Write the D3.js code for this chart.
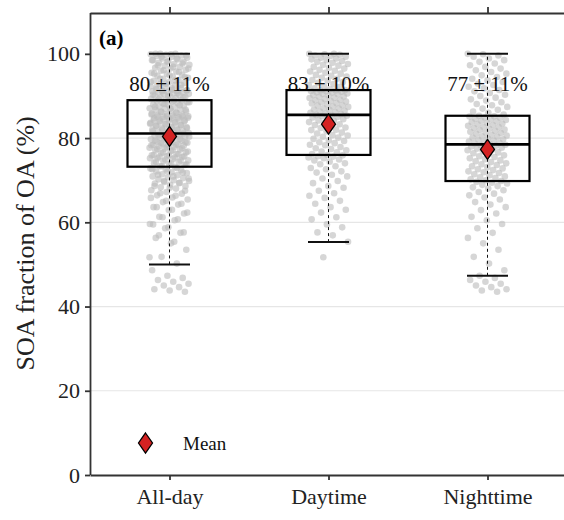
<!DOCTYPE html>
<html>
<head>
<meta charset="utf-8">
<script src="https://cdn.jsdelivr.net/npm/d3@7"></script>
<style>
  body { margin: 0; background: #fff; }
  svg { display: block; }
  svg text { font-family: "Liberation Serif", "Times New Roman", serif; }
</style>
</head>
<body>
<svg width="564" height="520"></svg>
<script>
// categories + box stats
var categories = ['All-day', 'Daytime', 'Nighttime'];
var whiskerLow = [50, 55.3, 47.3];
var q1 = [73.2, 76, 69.8];
var median = [81.1, 85.5, 78.5];
var q3 = [89, 91.4, 85.3];
var whiskerHigh = [100, 100, 100];
var means = [80.4, 83.3, 77.3];
var sds = [11, 10, 11];
var yTicks = [0, 20, 40, 60, 80, 100];

// individual SOA fractions (%), estimated from the jittered points
var daytime = [
  51.7, 55.4, 56.9, 57.6, 58.8, 59.5, 60.7, 61.2, 62.3, 63.0, 63.6, 64.4, 65.1, 65.8, 66.3, 66.9, 67.5, 68.2, 68.6, 69.3,
  69.8, 70.4, 70.9, 71.3, 71.8, 72.1, 72.6, 72.9, 73.3, 73.8, 74.0, 74.4, 74.7, 74.9, 75.2, 75.4, 75.6, 75.7, 75.9, 76.0,
  76.2, 76.6, 76.8, 77.1, 77.4, 77.6, 77.9, 78.3, 78.4, 78.8, 79.0, 79.3, 79.4, 79.8, 80.1, 80.3, 80.6, 80.7, 81.1, 81.3,
  81.6, 81.9, 82.0, 82.4, 82.5, 82.9, 83.1, 83.3, 83.6, 83.8, 84.1, 84.2, 84.5, 84.7, 84.9, 85.0, 85.2, 85.3, 85.4, 85.5,
  85.7, 85.8, 86.0, 86.2, 86.3, 86.5, 86.7, 86.8, 87.0, 87.1, 87.4, 87.5, 87.7, 87.8, 88.0, 88.2, 88.3, 88.5, 88.7, 88.8,
  89.0, 89.1, 89.3, 89.5, 89.6, 89.8, 89.9, 90.1, 90.2, 90.4, 90.5, 90.6, 90.8, 90.9, 91.0, 91.1, 91.2, 91.3, 91.3, 91.4,
  91.6, 91.8, 92.1, 92.3, 92.6, 92.8, 93.1, 93.3, 93.6, 93.8, 94.1, 94.3, 94.6, 94.8, 95.0, 95.3, 95.5, 95.8, 96.0, 96.2,
  96.5, 96.7, 96.9, 97.2, 97.4, 97.6, 97.9, 98.1, 98.3, 98.5, 98.7, 98.9, 99.1, 99.3, 99.5, 99.6, 99.8, 99.9, 100.0, 100.0
];
var nighttime = [
  43.5, 43.8, 44.1, 44.6, 45.0, 45.4, 45.9, 46.3, 46.8, 47.3, 48.6, 50.2, 51.8, 53.5, 55.0, 56.3, 57.5, 58.6, 59.6, 60.5,
  61.3, 62.1, 62.9, 63.6, 64.2, 64.8, 65.4, 65.9, 66.4, 66.8, 67.2, 67.6, 68.0, 68.3, 68.6, 68.9, 69.2, 69.4, 69.6, 69.8,
  70.0, 70.2, 70.5, 70.7, 70.9, 71.2, 71.4, 71.7, 71.9, 72.1, 72.4, 72.6, 72.8, 73.1, 73.3, 73.6, 73.8, 74.0, 74.3, 74.5,
  74.7, 75.0, 75.2, 75.5, 75.7, 75.9, 76.2, 76.4, 76.6, 76.9, 77.1, 77.3, 77.5, 77.7, 77.9, 78.0, 78.2, 78.3, 78.4, 78.5,
  78.7, 78.9, 79.0, 79.2, 79.4, 79.6, 79.7, 79.9, 80.1, 80.3, 80.4, 80.6, 80.8, 81.0, 81.2, 81.3, 81.5, 81.7, 81.9, 82.0,
  82.2, 82.4, 82.6, 82.7, 82.9, 83.1, 83.3, 83.4, 83.6, 83.8, 84.0, 84.1, 84.3, 84.5, 84.6, 84.8, 84.9, 85.1, 85.2, 85.3,
  85.6, 86.0, 86.3, 86.7, 87.0, 87.4, 87.8, 88.1, 88.5, 88.9, 89.2, 89.6, 90.0, 90.3, 90.7, 91.1, 91.4, 91.8, 92.2, 92.6,
  92.9, 93.3, 93.7, 94.1, 94.5, 94.9, 95.3, 95.7, 96.1, 96.5, 96.9, 97.3, 97.7, 98.1, 98.5, 98.9, 99.3, 99.6, 99.9, 100.0
];
// all-day = daytime + nighttime samples
var allDay = daytime.concat(nighttime);
var samples = [allDay, daytime, nighttime];

var width = 564, height = 520;
var margin = {top: 13, bottom: 45, left: 90, right: -3};
var serif = '"Liberation Serif", "Times New Roman", serif';

var svg = d3.select('svg');

// scales
var xScale = d3.scalePoint()
  .domain(categories)
  .range([margin.left, width - margin.right])
  .padding(0.5);
var yScale = d3.scaleLinear()
  .domain([0, 109.7])
  .range([height - margin.bottom, margin.top]);

var boxW = 84, capW = 41, jitterW = 20;

// grid
svg.append('g').selectAll('line')
  .data([20, 40, 60, 80])
  .enter().append('line')
  .attr('x1', margin.left).attr('x2', width)
  .attr('y1', d => yScale(d)).attr('y2', d => yScale(d))
  .attr('stroke', '#e6e6e6').attr('stroke-width', 1.2);

// jittered points (deterministic spread)
var pts = [];
samples.forEach(function(arr, g) {
  arr.forEach(function(v, i) {
    var f = (i * 0.6180339887 + g * 0.37) % 1;
    pts.push({cat: categories[g], v: v, dx: (f - 0.5) * 2 * jitterW});
  });
});
svg.append('g').selectAll('circle')
  .data(pts)
  .enter().append('circle')
  .attr('cx', d => xScale(d.cat) + d.dx)
  .attr('cy', d => yScale(d.v))
  .attr('r', 3.3)
  .attr('fill', '#bbbbbb')
  .attr('fill-opacity', 0.6);

// mean +- sd labels
svg.append('g').selectAll('text')
  .data(categories)
  .enter().append('text')
  .attr('x', d => xScale(d))
  .attr('y', 91)
  .attr('text-anchor', 'middle')
  .attr('font-family', serif)
  .attr('font-size', 21)
  .attr('fill', '#111')
  .text((d, i) => Math.round(means[i]) + ' \u00b1 ' + sds[i] + '%');

// whiskers: dashed line + caps
var wk = svg.append('g');
categories.forEach(function(c, i) {
  var x = xScale(c);
  wk.append('line')
    .attr('x1', x).attr('x2', x)
    .attr('y1', yScale(whiskerLow[i])).attr('y2', yScale(whiskerHigh[i]))
    .attr('stroke', '#111').attr('stroke-width', 1).attr('stroke-dasharray', '3,3');
  [whiskerLow[i], whiskerHigh[i]].forEach(function(w) {
    wk.append('line')
      .attr('x1', x - capW / 2).attr('x2', x + capW / 2)
      .attr('y1', yScale(w)).attr('y2', yScale(w))
      .attr('stroke', '#111').attr('stroke-width', 2);
  });
});

// boxes
svg.append('g').selectAll('rect')
  .data(categories)
  .enter().append('rect')
  .attr('x', d => xScale(d) - boxW / 2)
  .attr('width', boxW)
  .attr('y', (d, i) => yScale(q3[i]))
  .attr('height', (d, i) => yScale(q1[i]) - yScale(q3[i]))
  .attr('fill', 'none')
  .attr('stroke', '#000')
  .attr('stroke-width', 2.2);
svg.append('g').selectAll('line')
  .data(categories)
  .enter().append('line')
  .attr('x1', d => xScale(d) - boxW / 2).attr('x2', d => xScale(d) + boxW / 2)
  .attr('y1', (d, i) => yScale(median[i])).attr('y2', (d, i) => yScale(median[i]))
  .attr('stroke', '#000').attr('stroke-width', 2.6);

// mean diamonds
function diamond(x, y) {
  return 'M' + x + ',' + (y - 10) + 'L' + (x + 7) + ',' + y + 'L' + x + ',' + (y + 10) + 'L' + (x - 7) + ',' + y + 'Z';
}
svg.append('g').selectAll('path')
  .data(categories)
  .enter().append('path')
  .attr('d', (d, i) => diamond(xScale(d), yScale(means[i])))
  .attr('fill', '#d42222')
  .attr('stroke', '#000')
  .attr('stroke-width', 1.3);

// axes
var yAxis = d3.axisLeft(yScale).tickValues(yTicks).tickSize(5).tickPadding(5);
var gy = svg.append('g')
  .attr('transform', 'translate(' + [margin.left, 0] + ')')
  .call(yAxis);
var xAxis = d3.axisBottom(xScale).tickSize(5).tickPadding(8).tickSizeOuter(0);
var gx = svg.append('g')
  .attr('transform', 'translate(' + [0, height - margin.bottom] + ')')
  .call(xAxis);
var xTop = d3.axisTop(xScale).tickSize(6).tickFormat('').tickSizeOuter(0);
var gt = svg.append('g')
  .attr('transform', 'translate(' + [0, margin.top] + ')')
  .call(xTop);
[gx, gy, gt].forEach(function(g) {
  g.selectAll('path, line').attr('stroke', '#333').attr('stroke-width', 1.8);
  g.selectAll('text')
    .attr('font-family', serif)
    .attr('font-size', 22)
    .attr('fill', '#222');
});
gy.select('.domain').attr('d', 'M0.5,' + (height - margin.bottom) + 'V' + margin.top);

// y title
svg.append('text')
  .attr('transform', 'translate(34,' + yScale(55) + ') rotate(-90)')
  .attr('text-anchor', 'middle')
  .attr('font-family', serif)
  .attr('font-size', 26)
  .attr('fill', '#222')
  .text('SOA fraction of OA (%)');

// panel tag
svg.append('text')
  .attr('x', 99).attr('y', 45)
  .attr('font-family', serif)
  .attr('font-size', 21)
  .attr('font-weight', 'bold')
  .text('(a)');

// legend
svg.append('path')
  .attr('d', diamond(145.5, 443))
  .attr('fill', '#d42222')
  .attr('stroke', '#000')
  .attr('stroke-width', 1.3);
svg.append('text')
  .attr('x', 183).attr('y', 450)
  .attr('font-family', serif)
  .attr('font-size', 19)
  .attr('fill', '#111')
  .text('Mean');
</script>
</body>
</html>
